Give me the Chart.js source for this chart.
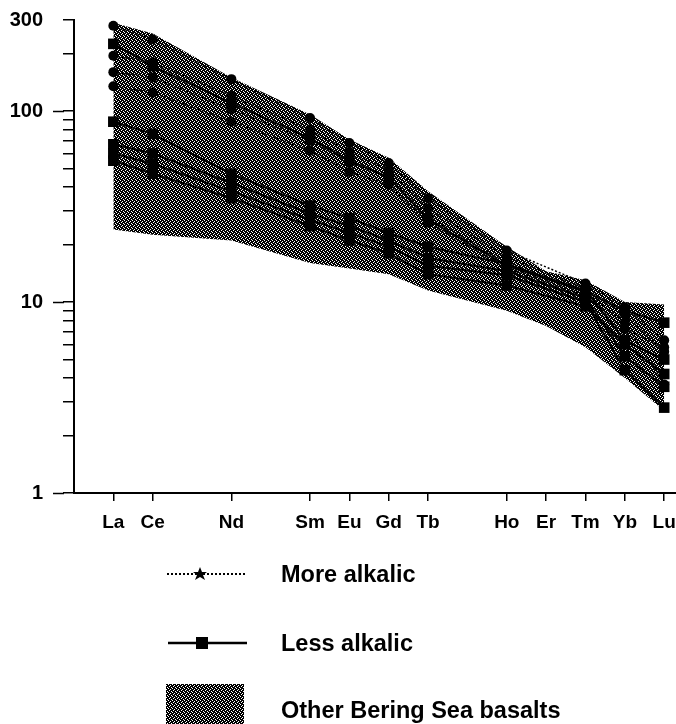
<!DOCTYPE html>
<html>
<head>
<meta charset="utf-8">
<script src="https://cdn.jsdelivr.net/npm/chart.js"></script>
<style>
  body { margin: 0; background: #fff; }
  #wrap { position: relative; width: 676px; height: 724px; overflow: hidden; }
  #reeChart { position: absolute; left: 0; top: 0; }
  #legend { position: absolute; left: 0; top: 0; }
  .leg { position: absolute; left: 281px; font: bold 23.5px "Liberation Sans", Arial, sans-serif; line-height: 23px; color: #000; white-space: nowrap; }
</style>
</head>
<body>
<div id="wrap">
  <canvas id="reeChart" width="676" height="724"></canvas>
  <svg id="legend" width="676" height="724">
    <defs>
      <pattern id="stipple" width="4" height="4" patternUnits="userSpaceOnUse">
        <rect width="4" height="4" fill="#000"/>
        <rect x="0" y="0" width="1" height="1" fill="#fff"/>
        <rect x="2" y="1" width="1" height="1" fill="#fff"/>
        <rect x="1" y="2" width="1" height="1" fill="#fff"/>
        <rect x="3" y="3" width="1" height="1" fill="#fff"/>
      </pattern>
    </defs>
    <line x1="167" y1="574" x2="247" y2="574" stroke="#000" stroke-width="2" stroke-dasharray="2 2"/>
    <polygon points="200,567 202,572 207,572 203,575 205,580 200,577 195,580 197,575 193,572 198,572" fill="#000"/>
    <line x1="168" y1="643" x2="247" y2="643" stroke="#000" stroke-width="2.5"/>
    <rect x="196" y="637" width="12" height="12" fill="#000"/>
    <rect x="166" y="684" width="78" height="42" fill="url(#stipple)"/>
  </svg>
  <div class="leg" style="top:563px">More alkalic</div>
  <div class="leg" style="top:632px">Less alkalic</div>
  <div class="leg" style="top:699px">Other Bering Sea basalts</div>
</div>
<script>
// chondrite-normalized REE
const elements = ['La', 'Ce', 'Nd', 'Sm', 'Eu', 'Gd', 'Tb', 'Ho', 'Er', 'Tm', 'Yb', 'Lu'];
const atomicNo = [57, 58, 60, 62, 63, 64, 65, 67, 68, 69, 70, 71];

// other Bering Sea basalts (shaded field)
const bandUpper = [290, 255, 150, 96, 71, 57, 38, 19.5, 14.5, 13, 10, 9.7];
const bandLower = [24, 22.5, 21, 16, 15, 14, 11.5, 9, 7.5, 5.8, 4.0, 2.7];

// more alkalic samples (Er not analysed)
const moreAlk1 = [280, 238, 147, 92, 68, 53.5, 35, 18.6, null, 12.5, 9.4, 6.3];
const moreAlk2 = [195, 180, 120, 80, 61, 49, 31, 17.2, null, 11.8, 8.6, 5.5];
const moreAlk3 = [160, 150, 102, 70, 54, 45, 28, 16, null, 11.2, 7.8, 3.7];
const moreAlk4 = [135, 125, 88, 62, 48, 41, 26, 15, null, 10.8, 7.2, 5.8];

// less alkalic samples
const lessAlk1 = [225, 172, 110, 72, 55, 45, 27, 15.5, null, 11.3, 9.0, 7.8];
const lessAlk2 = [88, 76, 47, 32, 27.5, 23, 19.5, 15.8, null, 11.5, 6.3, 5.0];
const lessAlk3 = [67, 60, 42, 29, 25, 21, 17, 14.5, null, 10.5, 5.2, 3.6];
const lessAlk4 = [60, 53, 38, 27, 23, 19.5, 15.5, 13.8, null, 10, 4.4, 2.8];
const lessAlk5 = [55, 47, 35, 25, 21, 18, 14, 12.2, null, 9.5, 6.0, 4.2];

const yTicks = [1, 2, 3, 4, 5, 6, 7, 8, 9, 10, 20, 30, 40, 50, 60, 70, 80, 90, 100, 200, 300];
const yLabels = [1, 10, 100, 300];
const yMajor = [1, 10, 100];

function xy(vals) {
    return atomicNo.map(function (z, i) {
        return { x: z, y: vals[i] };
    });
}

// stipple pattern for the shaded field
var tile = document.createElement('canvas');
tile.width = 4;
tile.height = 4;
var tctx = tile.getContext('2d');
tctx.fillStyle = '#000';
tctx.fillRect(0, 0, 4, 4);
tctx.fillStyle = '#fff';
[[0, 0], [2, 1], [1, 2], [3, 3]].forEach(function (p) {
    tctx.fillRect(p[0], p[1], 1, 1);
});
var ctx = document.getElementById('reeChart').getContext('2d');
var stipple = ctx.createPattern(tile, 'repeat');

function moreSet(vals) {
    return {
        label: 'More alkalic',
        data: xy(vals),
        borderColor: '#000',
        borderWidth: 1.5,
        borderDash: [2, 2],
        pointStyle: 'circle',
        pointRadius: 5,
        pointBackgroundColor: '#000',
        pointBorderWidth: 0,
        spanGaps: true,
        fill: false,
        order: 1
    };
}

function lessSet(vals) {
    return {
        label: 'Less alkalic',
        data: xy(vals),
        borderColor: '#000',
        borderWidth: 2,
        pointStyle: 'rect',
        pointRadius: 7.5,
        pointBackgroundColor: '#000',
        pointBorderWidth: 0,
        spanGaps: true,
        fill: false,
        order: 0
    };
}

// longer ticks at 1, 10, 100
const majorTicks = {
    id: 'majorTicks',
    afterDraw(chart) {
        const y = chart.scales.y;
        const c = chart.ctx;
        c.save();
        c.strokeStyle = '#000';
        c.lineWidth = 1.5;
        c.beginPath();
        yMajor.forEach(function (v) {
            const py = Math.round(y.getPixelForValue(v)) + 0.5;
            c.moveTo(y.right - 21, py);
            c.lineTo(y.right - 10, py);
        });
        c.stroke();
        c.restore();
    }
};

var font = { family: '"Liberation Sans", Arial, sans-serif', weight: 'bold' };

new Chart(ctx, {
    type: 'line',
    data: {
        datasets: [
            moreSet(moreAlk1), moreSet(moreAlk2), moreSet(moreAlk3), moreSet(moreAlk4),
            lessSet(lessAlk1), lessSet(lessAlk2), lessSet(lessAlk3), lessSet(lessAlk4), lessSet(lessAlk5),
            {
                label: 'Other Bering Sea basalts',
                data: xy(bandUpper),
                borderWidth: 0,
                pointRadius: 0,
                backgroundColor: stipple,
                fill: '+1',
                order: 5
            },
            {
                label: 'band lower',
                data: xy(bandLower),
                borderWidth: 0,
                pointRadius: 0,
                fill: false,
                order: 6
            }
        ]
    },
    options: {
        responsive: false,
        animation: false,
        layout: {
            autoPadding: false,
            padding: { left: 0, right: 0, top: 20, bottom: 191 }
        },
        plugins: {
            legend: { display: false },
            tooltip: { enabled: false }
        },
        scales: {
            x: {
                type: 'linear',
                min: 56,
                max: 71.3,
                afterFit: function (s) {
                    s.height = 40;
                    s.paddingLeft = 0;
                    s.paddingRight = 0;
                },
                afterBuildTicks: function (s) {
                    s.ticks = atomicNo.map(function (z) { return { value: z }; });
                },
                ticks: {
                    autoSkip: false,
                    maxRotation: 0,
                    padding: 10,
                    color: '#000',
                    font: Object.assign({ size: 19 }, font),
                    callback: function (v) { return elements[atomicNo.indexOf(v)]; }
                },
                grid: { drawOnChartArea: false, tickLength: 8, color: '#000', lineWidth: 1.5 },
                border: { color: '#000', width: 2 }
            },
            y: {
                type: 'logarithmic',
                min: 1,
                max: 300,
                afterFit: function (s) {
                    s.width = 74;
                    s.paddingTop = 0;
                    s.paddingBottom = 0;
                },
                afterBuildTicks: function (s) {
                    s.ticks = yTicks.map(function (v) { return { value: v }; });
                },
                ticks: {
                    autoSkip: false,
                    padding: 20,
                    color: '#000',
                    font: Object.assign({ size: 20 }, font),
                    callback: function (v) { return yLabels.indexOf(v) >= 0 ? String(v) : ''; }
                },
                grid: { drawOnChartArea: false, tickLength: 11, color: '#000', lineWidth: 1.5 },
                border: { color: '#000', width: 2 }
            }
        }
    },
    plugins: [majorTicks]
});
</script>
</body>
</html>
